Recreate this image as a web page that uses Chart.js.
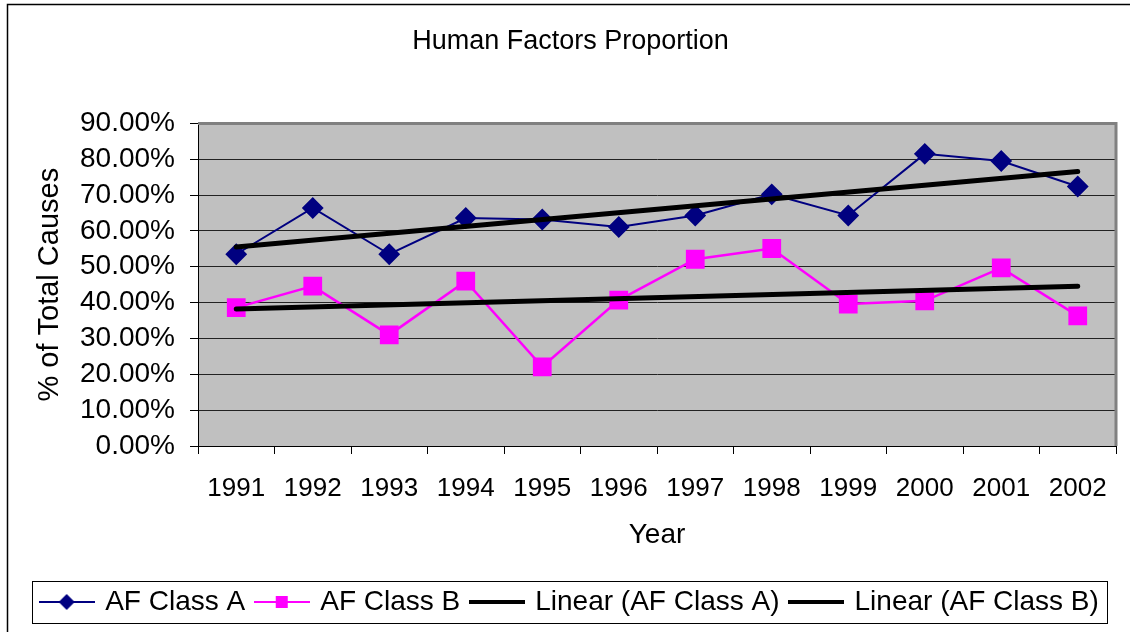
<!DOCTYPE html>
<html>
<head>
<meta charset="utf-8">
<title>Human Factors Proportion</title>
<script src="https://cdn.jsdelivr.net/npm/chart.js@4.4.1/dist/chart.umd.min.js"></script>
<style>
  html, body { margin: 0; padding: 0; background: #fff; }
  #caja { width: 1130px; height: 632px; }
</style>
</head>
<body>
<div id="caja"><canvas id="grafico"></canvas></div>
<script>
// datos (en %)
const anios = ['1991', '1992', '1993', '1994', '1995', '1996', '1997', '1998', '1999', '2000', '2001', '2002'];
const claseA = [53.5, 66.4, 53.5, 63.6, 63.2, 61.1, 64.3, 70.2, 64.3, 81.5, 79.5, 72.4];
const claseB = [38.6, 44.6, 31.0, 46.0, 22.1, 40.7, 52.1, 55.1, 39.6, 40.5, 49.7, 36.3];
// lineas de tendencia: valor al inicio y al final
const tendenciaA = [55.5, 76.6];
const tendenciaB = [38.2, 44.6];
const ticksY = [0, 10, 20, 30, 40, 50, 60, 70, 80, 90];

const fuente = "'Liberation Sans', Arial, sans-serif";

window.onload = inicio;

function inicio() {
  graficoLineas();
}

// dibujo de la muestra de la leyenda: linea con marcador
function muestra(color, grosor, marcador) {
  const c = document.createElement('canvas');
  c.width = 56;
  c.height = 24;
  const g = c.getContext('2d');
  g.strokeStyle = color;
  g.lineWidth = grosor;
  g.beginPath();
  g.moveTo(0, 12);
  g.lineTo(56, 12);
  g.stroke();
  g.fillStyle = color;
  if (marcador === 'rombo') {
    g.beginPath();
    g.moveTo(28, 4);
    g.lineTo(36, 12);
    g.lineTo(28, 20);
    g.lineTo(20, 12);
    g.closePath();
    g.fill();
  } else if (marcador === 'cuadro') {
    g.fillRect(22, 6, 12, 12);
  }
  return c;
}

const marco = {
  id: 'marco',
  beforeDraw(chart) {
    const ctx = chart.ctx;
    const a = chart.chartArea;
    ctx.save();
    ctx.fillStyle = '#fff';
    ctx.fillRect(0, 0, chart.width, chart.height);
    ctx.strokeStyle = '#000';
    ctx.lineWidth = 1.5;
    ctx.strokeRect(7.5, 4.5, chart.width + 20, chart.height + 20);
    ctx.fillStyle = '#c0c0c0';
    ctx.fillRect(a.left, a.top, a.right - a.left, a.bottom - a.top);
    ctx.restore();
  },
  beforeDatasetsDraw(chart) {
    const ctx = chart.ctx;
    const a = chart.chartArea;
    ctx.save();
    ctx.strokeStyle = '#808080';
    ctx.lineWidth = 3;
    ctx.beginPath();
    ctx.moveTo(a.left, a.top);
    ctx.lineTo(a.right, a.top);
    ctx.lineTo(a.right, a.bottom);
    ctx.stroke();
    ctx.restore();
  },
  afterDraw(chart) {
    const cajas = chart.legend.legendHitBoxes;
    if (!cajas || !cajas.length) return;
    let izq = Infinity, der = -Infinity;
    cajas.forEach(function (b) {
      izq = Math.min(izq, b.left);
      der = Math.max(der, b.left + b.width);
    });
    const ctx = chart.ctx;
    ctx.save();
    ctx.strokeStyle = '#000';
    ctx.lineWidth = 1;
    ctx.strokeRect(Math.round(izq - 10) + 0.5, Math.round(cajas[0].top - 7) + 0.5,
      Math.round(der - izq + 18), Math.round(cajas[0].height + 14));
    ctx.restore();
  }
};

function graficoLineas() {
  const ctx = document.getElementById('grafico');
  const muestras = [
    muestra('#000080', 2, 'rombo'),
    muestra('#ff00ff', 2, 'cuadro'),
    muestra('#000', 4, null),
    muestra('#000', 4, null)
  ];

  new Chart(ctx, {
    type: 'line',
    data: {
      labels: anios,
      datasets: [{
        label: 'AF Class A',
        data: claseA,
        order: 1,
        borderColor: '#000080',
        backgroundColor: '#000080',
        borderWidth: 2,
        pointStyle: 'rectRot',
        pointRadius: 9.5,
        pointHoverRadius: 9.5,
        tension: 0
      },
      {
        label: 'AF Class B',
        data: claseB,
        order: 1,
        borderColor: '#ff00ff',
        backgroundColor: '#ff00ff',
        borderWidth: 2.5,
        pointStyle: 'rect',
        pointRadius: 11.5,
        pointHoverRadius: 11.5,
        tension: 0
      },
      {
        label: 'Linear (AF Class A)',
        data: [{x: anios[0], y: tendenciaA[0]}, {x: anios[anios.length - 1], y: tendenciaA[1]}],
        order: 0,
        borderColor: '#000',
        backgroundColor: '#000',
        borderWidth: 5,
        borderCapStyle: 'round',
        pointRadius: 0
      },
      {
        label: 'Linear (AF Class B)',
        data: [{x: anios[0], y: tendenciaB[0]}, {x: anios[anios.length - 1], y: tendenciaB[1]}],
        order: 0,
        borderColor: '#000',
        backgroundColor: '#000',
        borderWidth: 5,
        borderCapStyle: 'round',
        pointRadius: 0
      }]
    },
    options: {
      responsive: true,
      maintainAspectRatio: false,
      animation: false,
      events: [],
      layout: {
        padding: {left: 24, right: 13, top: 0, bottom: 6}
      },
      plugins: {
        title: {
          display: true,
          text: 'Human Factors Proportion',
          color: '#000',
          font: {family: fuente, size: 27, weight: 'normal'},
          padding: {top: 25, bottom: 66}
        },
        legend: {
          display: true,
          position: 'bottom',
          labels: {
            color: '#000',
            font: {family: fuente, size: 28},
            usePointStyle: true,
            pointStyleWidth: 49,
            padding: 12,
            generateLabels: function (chart) {
              return chart.data.datasets.map(function (ds, i) {
                return {
                  text: ds.label,
                  pointStyle: muestras[i],
                  fillStyle: 'transparent',
                  strokeStyle: 'transparent',
                  lineWidth: 0,
                  hidden: false,
                  datasetIndex: i
                };
              });
            }
          }
        },
        tooltip: {enabled: false}
      },
      scales: {
        x: {
          offset: true,
          grid: {
            offset: true,
            drawOnChartArea: false,
            drawTicks: true,
            tickLength: 8,
            tickColor: '#000'
          },
          border: {color: '#000', width: 1},
          ticks: {
            color: '#000',
            font: {family: fuente, size: 26},
            padding: 19,
            maxRotation: 0,
            autoSkip: false
          },
          title: {
            display: true,
            text: 'Year',
            color: '#000',
            font: {family: fuente, size: 28},
            padding: {top: 10, bottom: 24}
          },
          afterFit: function (scale) { scale.height = 130; }
        },
        y: {
          min: 0,
          max: 90,
          afterBuildTicks: function (scale) {
            scale.ticks = ticksY.map(function (v) { return {value: v}; });
          },
          grid: {
            color: '#222',
            lineWidth: 1,
            drawTicks: true,
            tickLength: 8,
            tickColor: '#000'
          },
          border: {color: '#000', width: 1},
          ticks: {
            color: '#000',
            font: {family: fuente, size: 28},
            padding: 15,
            autoSkip: false,
            callback: function (v) { return v.toFixed(2) + '%'; }
          },
          title: {
            display: true,
            text: '% of Total Causes',
            color: '#000',
            font: {family: fuente, size: 29},
            padding: {top: 9, bottom: 0}
          },
          afterFit: function (scale) { scale.width = 174; }
        }
      }
    },
    plugins: [marco]
  });
}
</script>
</body>
</html>
